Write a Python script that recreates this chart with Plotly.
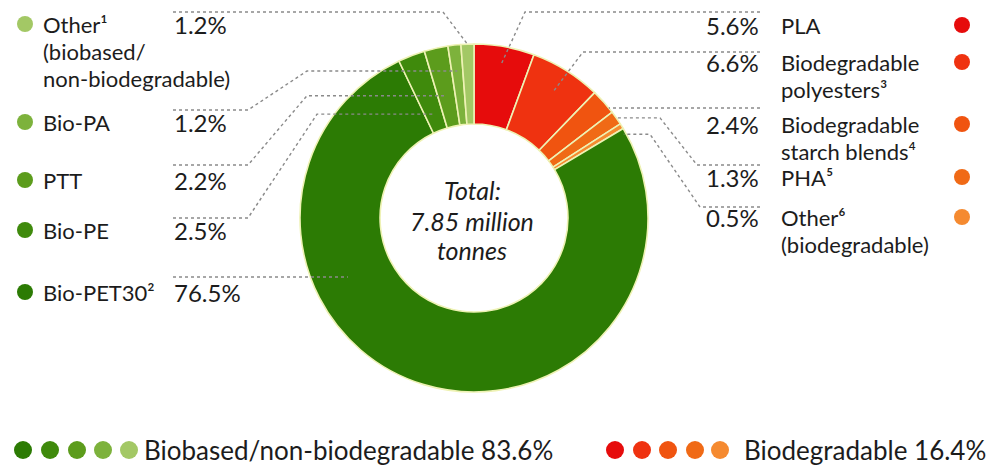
import math
import plotly.graph_objects as go

# ---------------- data ----------------
slice_labels = ["PLA", "Biodegradable polyesters", "Biodegradable starch blends", "PHA",
                "Other (biodegradable)", "Bio-PET30", "Bio-PE", "PTT", "Bio-PA",
                "Other (biobased/non-biodegradable)"]
slice_values = [5.6, 6.6, 2.4, 1.3, 0.5, 76.5, 2.5, 2.2, 1.2, 1.2]
slice_colors = ["#e60c0c", "#ef3210", "#f05410", "#f06a16", "#f58a30",
                "#2c7b04", "#3f8a0c", "#5c9c1c", "#7db23c", "#a3c865"]
pct_text = ["5.6%", "6.6%", "2.4%", "1.3%", "0.5%", "76.5%", "2.5%", "2.2%", "1.2%", "1.2%"]

right_label_lines = [["PLA"], ["Biodegradable", "polyesters³"], ["Biodegradable", "starch blends⁴"],
                     ["PHA⁵"], ["Other⁶", "(biodegradable)"]]
left_label_lines = {9: ["Other¹", "(biobased/", "non-biodegradable)"], 8: ["Bio-PA"], 7: ["PTT"],
                    6: ["Bio-PE"], 5: ["Bio-PET30²"]}

group_names = ["Biobased/non-biodegradable", "Biodegradable"]
group_totals = [83.6, 16.4]
center_lines = ["Total:", "7.85 million", "tonnes"]

# ---------------- layout constants (pixels) ----------------
W, H = 998, 468
CX, CY, R = 474, 218, 174
HOLE = 0.54
FONT = "Lato"
TXT = "#1c1c1c"
FS_LEFT = 22
FS_RIGHT = 22
FS_PCT = 24
FS_BOTTOM = 26
LINE_H = 27

fig = go.Figure()

fig.add_trace(go.Pie(
    labels=slice_labels, values=slice_values, sort=False, direction="clockwise",
    rotation=0, hole=HOLE, textinfo="none", hoverinfo="label+percent",
    marker=dict(colors=slice_colors, line=dict(color="#eef2b4", width=1.6)),
    domain=dict(x=[(CX - R) / W, (CX + R) / W], y=[1 - (CY + R) / H, 1 - (CY - R) / H]),
    showlegend=False,
))

total = sum(slice_values)
cum = []
c = 0
for v in slice_values:
    cum.append(c + v / 2)
    c += v
mid_ang = [360 * m / total for m in cum]


def slice_pt(i, rf):
    a = math.radians(mid_ang[i])
    return CX + rf * R * math.sin(a), CY - rf * R * math.cos(a)


annotations = []
shapes = []


def text(x, y, s, anchor="left", size=FS_LEFT, italic=False):
    annotations.append(dict(x=x, y=y, xref="x", yref="y", text=s, showarrow=False,
                            xanchor=anchor, yanchor="middle", borderpad=0,
                            font=dict(family=FONT, size=size, color=TXT,
                                      style="italic" if italic else "normal")))


def path(pts):
    d = "M " + " L ".join(f"{x:.1f},{y:.1f}" for x, y in pts)
    shapes.append(dict(type="path", path=d, xref="x", yref="y",
                       line=dict(color="#8a8a8a", width=1.4, dash="dot")))


# ----- right side labels -----
right_rows = [25, 62, 124, 177, 217]
dot_x_right = []
dot_y_right = []
for i in range(5):
    y = right_rows[i]
    text(760, y, pct_text[i], anchor="right", size=FS_PCT)
    for k, ln in enumerate(right_label_lines[i]):
        text(780, y + k * LINE_H, ln, size=FS_RIGHT)
    dot_x_right.append(962)
    dot_y_right.append(y)

# leaders (right)
ex, ey = slice_pt(0, 0.9)
path([(760, 12), (525, 12), (ex, ey)])
ex, ey = slice_pt(1, 0.85)
path([(760, 52), (583, 52), (ex, ey)])
yl = 108
path([(760, yl), (CX + math.sqrt(R * R - (yl - CY) ** 2), yl)])
ex, ey = slice_pt(3, 1.0)
path([(760, 165), (697, 165), (660, ey), (ex, ey)])
ex, ey = slice_pt(4, 1.0)
path([(760, 207), (700, 207), (650, ey + 8), (ex + 2, ey + 8)])

# ----- left side labels -----
left_rows = {9: 24, 8: 122, 7: 180, 6: 230, 5: 292}
dot_x_left, dot_y_left, dot_c_left = [], [], []
for i, y in left_rows.items():
    text(173, y, pct_text[i], size=FS_PCT)
    for k, ln in enumerate(left_label_lines[i]):
        text(42, y + k * LINE_H, ln, size=FS_LEFT)
    dot_x_left.append(25)
    dot_y_left.append(y)
    dot_c_left.append(slice_colors[i])

ex, ey = slice_pt(9, 1.0)
path([(173, 12), (443, 12), (ex, ey)])
ex, ey = slice_pt(8, 0.85)
path([(173, 110), (248, 110), (307, ey), (ex, ey)])
ex, ey = slice_pt(7, 0.72)
path([(173, 165), (248, 165), (307, ey), (ex, ey)])
ex, ey = slice_pt(6, 0.64)
path([(173, 218), (248, 218), (317, ey), (ex, ey)])
yl = 277
path([(173, yl), (CX - math.sqrt((0.8 * R) ** 2 - (yl - CY) ** 2), yl)])

# ----- center text -----
for s, y in zip(center_lines, [190, 221, 250]):
    text(472, y, s, anchor="center", size=25, italic=True)

# ----- bottom legend -----
green_idx = [5, 6, 7, 8, 9]
red_idx = [0, 1, 2, 3, 4]
gx = [23, 50, 77, 103, 129]
rx = [615, 642, 668, 695, 720]
text(143, 450, f"{group_names[0]} {group_totals[0]}%", size=FS_BOTTOM)
text(743, 450, f"{group_names[1]} {group_totals[1]}%", size=FS_BOTTOM)

fig.add_trace(go.Scatter(
    x=dot_x_right + dot_x_left, y=dot_y_right + dot_y_left, mode="markers",
    marker=dict(size=16, color=slice_colors[:5] + dot_c_left, line=dict(width=0)),
    hoverinfo="skip", showlegend=False))
fig.add_trace(go.Scatter(
    x=gx + rx, y=[450] * 10, mode="markers",
    marker=dict(size=18, color=[slice_colors[i] for i in green_idx] + [slice_colors[i] for i in red_idx],
                line=dict(width=0)),
    hoverinfo="skip", showlegend=False))

fig.update_layout(
    width=W, height=H, autosize=False, margin=dict(l=0, r=0, t=0, b=0),
    paper_bgcolor="white", plot_bgcolor="rgba(0,0,0,0)",
    xaxis=dict(range=[0, W], visible=False, fixedrange=True),
    yaxis=dict(range=[H, 0], visible=False, fixedrange=True),
    annotations=annotations, shapes=shapes,
    font=dict(family=FONT, color=TXT),
)

fig.write_html("out.html", config={"displayModeBar": False},
               post_script="document.body.style.margin='0';document.body.style.overflow='hidden';")
